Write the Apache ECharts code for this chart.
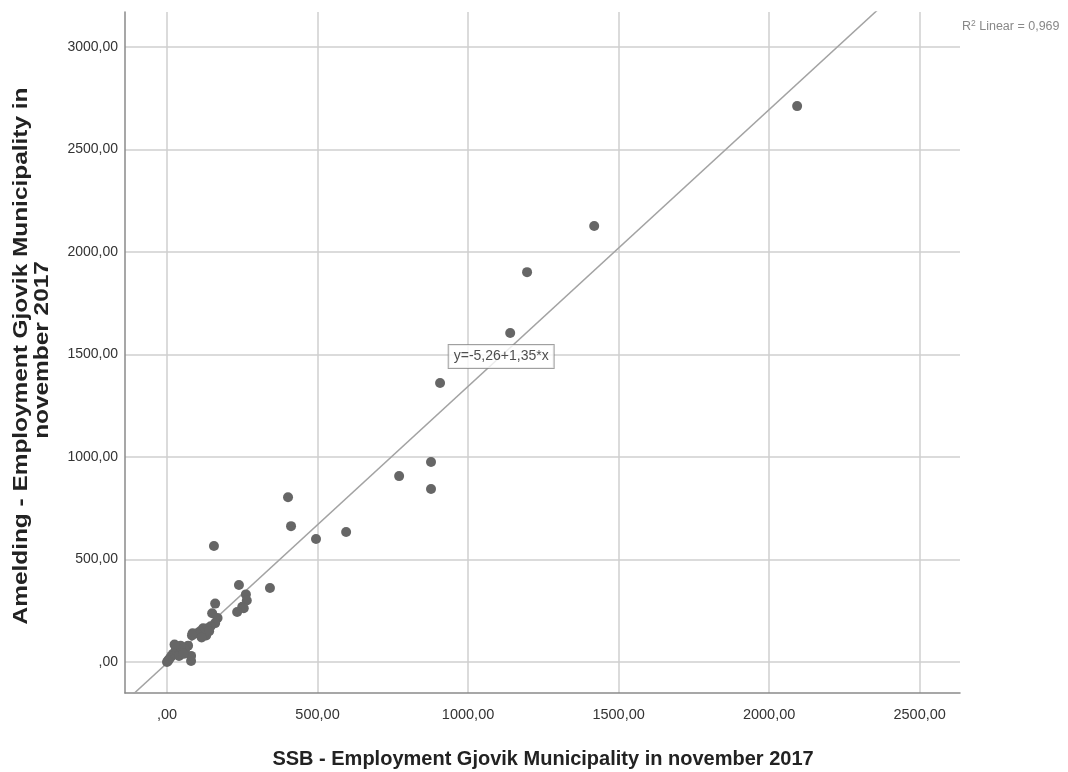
<!DOCTYPE html>
<html>
<head>
<meta charset="utf-8">
<script src="https://cdn.jsdelivr.net/npm/echarts@6/dist/echarts.min.js"></script>
<style>
html,body{margin:0;padding:0;background:#fff;}
#c{width:1068px;height:772px;}
</style>
</head>
<body>
<div id="c"></div>
<script>
// SSB employment (x) and A-melding employment (y), per unit
const ssbValues = [2093,1419,1196,1140,907,877,877,771,595,495,402,412,342,156,239,262,265,250,255,233,160,150,168,160,145,135,120,110,100,85,83,80,80,70,60,50,45,30,25,20,15,10,5,0,3,40,55,130,140,115];
const ameldingValues = [2712,2127,1902,1605,1361,976,844,907,634,600,804,663,361,566,376,330,300,270,262,244,285,238,215,190,175,165,165,150,140,140,130,5,30,80,60,50,80,70,85,40,30,20,10,0,5,30,40,130,150,120];
const tickValues = [0,500,1000,1500,2000,2500,3000];
const xTickValues = [0,500,1000,1500,2000,2500];
const intercept = -5.26;
const slope = 1.35;
const r2 = '0,969';
const equationText = 'y=-5,26+1,35*x';
const equationAnchor = [1110, 1490];
const xTitle = 'SSB - Employment Gjovik Municipality in november 2017';
const yTitle1 = 'Amelding - Employment Gjovik Municipality in';
const yTitle2 = 'november 2017';

const fmtNum = v => (v === 0 ? '' : String(Math.round(v))) + ',00';
const pts = ssbValues.map((x,i)=>[x, ameldingValues[i]]);
const lineX = [-300, 2800];
const linePts = lineX.map(x=>[x, intercept + slope*x]);
const fnt = "'Liberation Sans', Arial, sans-serif";

const chart = echarts.init(document.getElementById('c'), null, {renderer:'canvas'});
const axisCommon = {
  axisLine:{show:true, onZero:false, lineStyle:{color:'#8a8a8a', width:1.5}},
  splitLine:{show:true, lineStyle:{color:'#cfcfcf', width:1.5}},
};
chart.setOption({
  animation:false,
  backgroundColor:'#fff',
  grid:{left:125, right:108, top:12, bottom:79, containLabel:false},
  xAxis:Object.assign({}, axisCommon, {
    type:'value', min:-139.5, max:2634,
    axisTick:{show:false, customValues:xTickValues},
    axisLabel:{customValues:xTickValues, formatter:fmtNum, color:'#333', fontSize:14.5, fontFamily:fnt, margin:14}
  }),
  yAxis:Object.assign({}, axisCommon, {
    type:'value', min:-151, max:3171,
    axisTick:{show:false, customValues:tickValues},
    axisLabel:{customValues:tickValues, formatter:fmtNum, color:'#333', fontSize:14, fontFamily:fnt, margin:7}
  }),
  graphic:[
    {type:'text', x:543, y:759, style:{text:xTitle, font:"bold 20px "+fnt, fill:'#222', align:'center', verticalAlign:'middle'}},
    {type:'text', x:21, y:356, rotation:Math.PI/2, scaleX:1.22, style:{text:yTitle1, font:"bold 20px "+fnt, fill:'#222', align:'center', verticalAlign:'middle'}},
    {type:'text', x:42, y:350, rotation:Math.PI/2, scaleX:1.22, style:{text:yTitle2, font:"bold 20px "+fnt, fill:'#222', align:'center', verticalAlign:'middle'}},
    {type:'text', x:962, y:27, style:{text:'{a|R}{s|2}{a| Linear = '+r2+'}', verticalAlign:'middle', fill:'#888',
      rich:{a:{fontSize:12.5, fontFamily:fnt, fill:'#888', color:'#888'}, s:{fontSize:8.5, fontFamily:fnt, fill:'#888', color:'#888', verticalAlign:'top', padding:[0,0,6,0]}}}}
  ],
  series:[
    {type:'line', data:linePts, symbol:'none', clip:true, silent:true,
     lineStyle:{color:'#a3a3a3', width:1.5}},
    {type:'scatter', data:pts, symbolSize:10, itemStyle:{color:'#666666', opacity:1}, z:5},
    {type:'scatter', data:[equationAnchor], symbolSize:0, silent:true,
     label:{show:true, formatter:equationText, position:'inside', color:'#222', fontSize:14, fontFamily:fnt,
       backgroundColor:'#fff', borderColor:'#888', borderWidth:1, padding:[5,5,4,5]}, z:6}
  ]
});
</script>
</body>
</html>
